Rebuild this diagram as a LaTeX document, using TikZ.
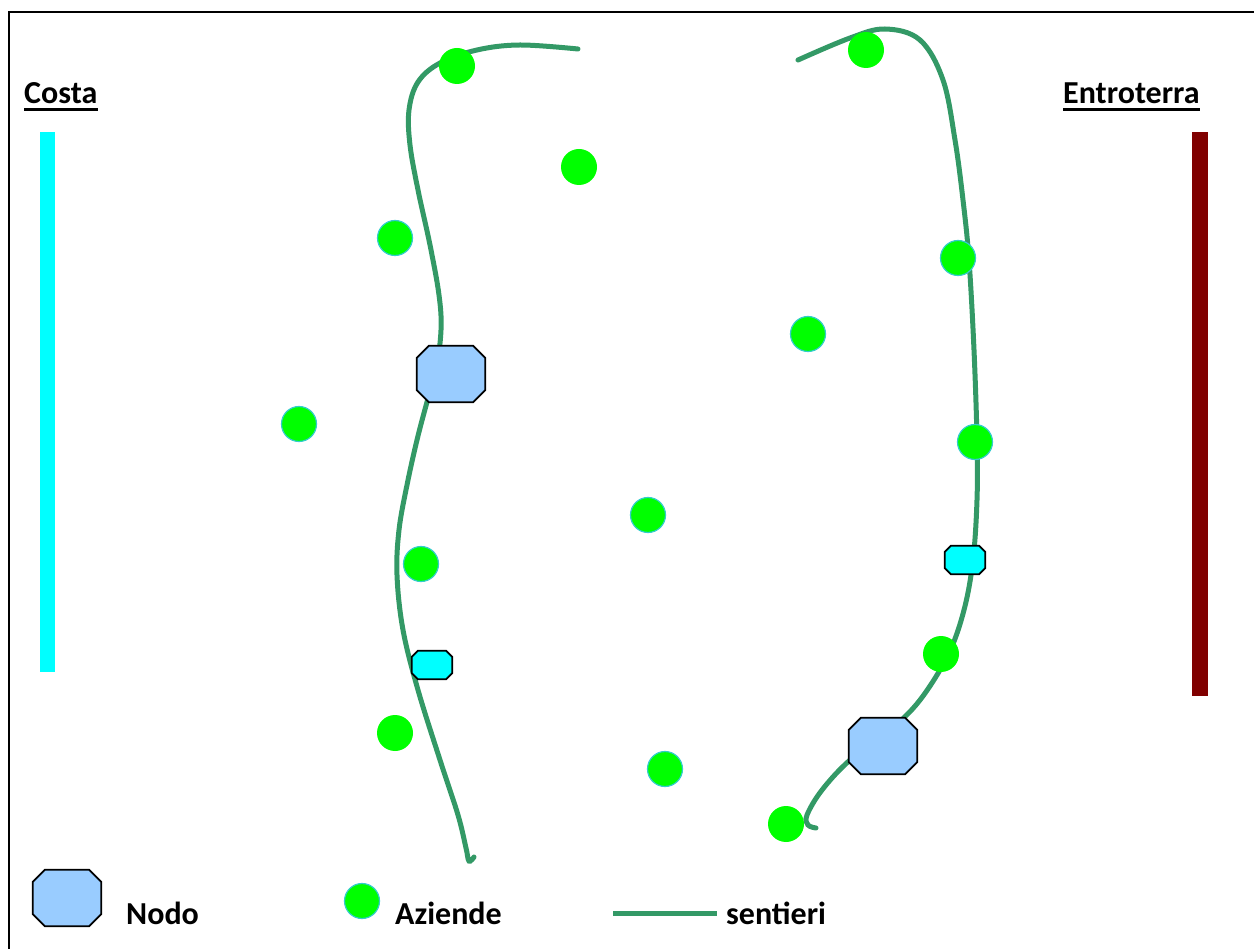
\documentclass[tikz,border=0pt]{standalone}
\usepackage{fontspec}
\setmainfont{Carlito}
\definecolor{trail}{HTML}{339966}
\definecolor{farmgreen}{HTML}{00FF00}
\definecolor{farmedge}{HTML}{33CCCC}
\definecolor{nodeblue}{HTML}{99CCFF}
\definecolor{nodecyan}{HTML}{00FFFF}
\definecolor{inland}{HTML}{800000}
\tikzset{
  farm/.style={circle, fill=farmgreen, minimum size=36pt, inner sep=0pt},
  farmo/.style={farm, draw=farmedge, line width=1.2pt, minimum size=35pt},
  bigbox/.style={rectangle, minimum width=68pt, minimum height=56pt, inner sep=0pt},
  smallbox/.style={rectangle, minimum width=40pt, minimum height=28pt, inner sep=0pt},
  octbig/.style={draw=black, line width=1.8pt, fill=nodeblue, line join=miter},
  octsmall/.style={draw=black, line width=1.8pt, fill=nodecyan, line join=miter},
  trailline/.style={draw=trail, line width=5pt},
  label/.style={font=\fontsize{32}{38}\selectfont\bfseries, inner sep=0pt, anchor=base west},
  ul/.style={line width=3pt},
}
% octagon drawn on the border of a named rectangular node
\newcommand\octdraw[3]{%
  \draw[#3] ([xshift=#2]#1.north west) -- ([xshift=-#2]#1.north east)
    -- ([yshift=-#2]#1.north east) -- ([yshift=#2]#1.south east)
    -- ([xshift=-#2]#1.south east) -- ([xshift=#2]#1.south west)
    -- ([yshift=#2]#1.south west) -- ([yshift=-#2]#1.north west) -- cycle;}
\begin{document}
\begin{tikzpicture}[x=1pt,y=-1pt]
\useasboundingbox (0,0) rectangle (1254,949);
% frame
\draw[line width=2.5pt] (9,949) -- (9,12) -- (1256,12);

% coast / inland
\node[label] (costa) at (24,104) {Costa};
\draw[ul] ([yshift=-5.5pt]costa.base west) -- ([yshift=-5.5pt]costa.base east);
\node[label] (entro) at (1063,104) {Entroterra};
\draw[ul] ([yshift=-5.5pt]entro.base west) -- ([yshift=-5.5pt]entro.base east);
\fill[nodecyan] (40,132) rectangle (55,672);
\fill[inland] (1192,132) rectangle (1208,696);

% trails
\draw[trailline, line cap=round] plot[smooth, tension=0.6] coordinates {
 (578,49) (520,45) (477,50) (440,63) (418,82) (409,110) (410,145) (418,190) (430,245) (439,295)
 (441,330) (436,370) (427,402) (417,440) (407,485) (399,530) (397,575) (403,630) (418,690) (440,760)
 (458,815) (466,848) (469,861) (474,857)};
\draw[trailline, line cap=round] plot[smooth, tension=0.6] coordinates {
 (798,60) (850,38) (885,29) (920,40) (943,80) (955,140) (963,200) (969,260) (974,350)
 (977,440) (977,500) (973,560) (964,610) (948,655) (920,700) (890,730) (850,760) (822,790)
 (807,815) (808,825) (816,828)};

% nodes
\node[bigbox] (n1) at (451,374) {};
\octdraw{n1}{12pt}{octbig}
\node[bigbox] (n2) at (883,746) {};
\octdraw{n2}{12pt}{octbig}
\node[smallbox] (s1) at (432,665) {};
\octdraw{s1}{6pt}{octsmall}
\node[smallbox] (s2) at (965,560) {};
\octdraw{s2}{6pt}{octsmall}

% farms
\node[farm]  (f1)  at (457,66)  {};
\node[farm]  (f2)  at (579,167) {};
\node[farmo] (f3)  at (395,238) {};
\node[farmo] (f4)  at (299,424) {};
\node[farmo] (f5)  at (421,564) {};
\node[farm]  (f6)  at (395,733) {};
\node[farmo] (f7)  at (648,515) {};
\node[farmo] (f8)  at (665,769) {};
\node[farmo] (f9)  at (808,334) {};
\node[farm]  (f10) at (866,50)  {};
\node[farmo] (f11) at (958,258) {};
\node[farmo] (f12) at (975,442) {};
\node[farm]  (f13) at (941,654) {};
\node[farm]  (f14) at (786,824) {};

% legend
\node[bigbox] (lnode) at (67,898) {};
\octdraw{lnode}{12pt}{octbig}
\node[label] (lnodot) at (126,924) {Nodo};
\node[farmo] (lfarm) at (362,901) {};
\node[label] (lfarmt) at (395,924) {Aziende};
\coordinate (lt1) at (613,913);
\coordinate (lt2) at (717,913);
\draw[trailline] (lt1) -- (lt2);
\node[label] (ltrailt) at (726,924) {sentieri};
\end{tikzpicture}
\end{document}
